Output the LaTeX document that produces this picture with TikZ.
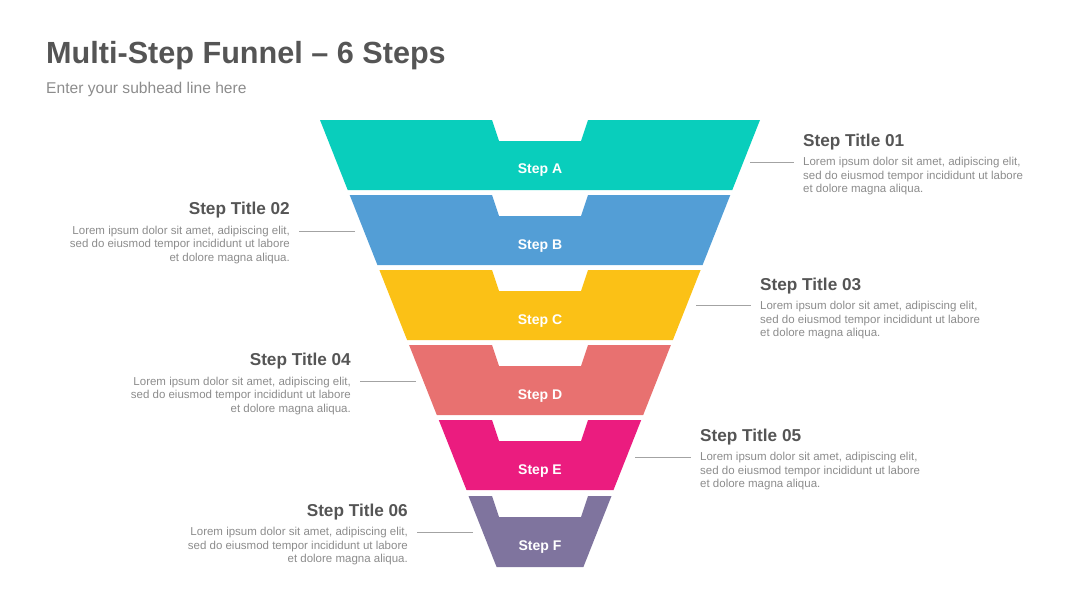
\documentclass[tikz,border=0pt]{standalone}
\usepackage{fontspec}
\setmainfont{Liberation Sans}
\definecolor{tealk}{RGB}{9, 206, 188}
\definecolor{azulk}{RGB}{83, 158, 214}
\definecolor{amarillok}{RGB}{251, 193, 22}
\definecolor{salmonk}{RGB}{232, 113, 112}
\definecolor{rosak}{RGB}{235, 28, 127}
\definecolor{moradok}{RGB}{127, 116, 158}
\definecolor{grisk}{RGB}{85, 85, 85}
\definecolor{grisclarok}{RGB}{140, 140, 140}
\usetikzlibrary{positioning}

\begin{document}
\begin{tikzpicture}[x=1pt,y=-1pt,
    steplbl/.style={text=white,font=\fontsize{14}{16}\selectfont\bfseries,anchor=base,inner sep=0pt},
    steptitle/.style={text=grisk,font=\fontsize{17.2}{20}\selectfont\bfseries,inner sep=0pt},
    stepbody/.style={text=grisclarok,font=\fontsize{11.5}{13.5}\selectfont,inner sep=0pt},
    lead/.style={draw=grisclarok!80,line width=0.8pt,shorten >=9pt}]
  \useasboundingbox (0,0) rectangle (1080,608);

  \node[anchor=base west,inner sep=0pt,text=grisk,font=\fontsize{30.6}{35}\selectfont\bfseries] (head) at (46,63) {Multi-Step Funnel -- 6 Steps};
  \node[anchor=base west,inner sep=0pt,text=grisclarok,font=\fontsize{15.6}{18}\selectfont] (subhead) at (46,93) {Enter your subhead line here};

  % funnel bands
  \fill[tealk] (320,120) -- (492,120) -- (499,141) -- (581,141) -- (588,120) -- (760,120) -- (732.3,190) -- (347.7,190) -- cycle;
  \fill[azulk] (349.7,195) -- (492,195) -- (499,216) -- (581,216) -- (588,195) -- (730.3,195) -- (702.6,265) -- (377.4,265) -- cycle;
  \fill[amarillok] (379.4,270) -- (492,270) -- (499,291) -- (581,291) -- (588,270) -- (700.6,270) -- (672.9,340) -- (407.1,340) -- cycle;
  \fill[salmonk] (409.1,345) -- (492,345) -- (499,366) -- (581,366) -- (588,345) -- (670.9,345) -- (643.2,415) -- (436.8,415) -- cycle;
  \fill[rosak] (438.8,420) -- (492,420) -- (499,441) -- (581,441) -- (588,420) -- (641.2,420) -- (613.5,490) -- (466.5,490) -- cycle;
  \fill[moradok] (468.5,496) -- (492,496) -- (499,517) -- (581,517) -- (588,496) -- (611.5,496) -- (583.4,567) -- (496.6,567) -- cycle;

  \node[steplbl] (lblA) at (540,173) {Step A};
  \node[steplbl] (lblB) at (540,249) {Step B};
  \node[steplbl] (lblC) at (540,324) {Step C};
  \node[steplbl] (lblD) at (540,399) {Step D};
  \node[steplbl] (lblE) at (540,474) {Step E};
  \node[steplbl] (lblF) at (540,550.5) {Step F};

  % right side texts
  \node[steptitle,anchor=base west] (t01) at (803,146) {Step Title 01};
  \node[stepbody,align=left,below=11pt of t01.base west,anchor=north west] (b01)
       {Lorem ipsum dolor sit amet, adipiscing elit,\\sed do eiusmod tempor incididunt ut labore\\et dolore magna aliqua.};
  \node[steptitle,anchor=base west] (t03) at (760,290) {Step Title 03};
  \node[stepbody,align=left,below=11pt of t03.base west,anchor=north west] (b03)
       {Lorem ipsum dolor sit amet, adipiscing elit,\\sed do eiusmod tempor incididunt ut labore\\et dolore magna aliqua.};
  \node[steptitle,anchor=base west] (t05) at (700,441) {Step Title 05};
  \node[stepbody,align=left,below=11pt of t05.base west,anchor=north west] (b05)
       {Lorem ipsum dolor sit amet, adipiscing elit,\\sed do eiusmod tempor incididunt ut labore\\et dolore magna aliqua.};

  % left side texts
  \node[steptitle,anchor=base east] (t02) at (290,214.5) {Step Title 02};
  \node[stepbody,align=right,below=11pt of t02.base east,anchor=north east] (b02)
       {Lorem ipsum dolor sit amet, adipiscing elit,\\sed do eiusmod tempor incididunt ut labore\\et dolore magna aliqua.};
  \node[steptitle,anchor=base east] (t04) at (351,365.5) {Step Title 04};
  \node[stepbody,align=right,below=11pt of t04.base east,anchor=north east] (b04)
       {Lorem ipsum dolor sit amet, adipiscing elit,\\sed do eiusmod tempor incididunt ut labore\\et dolore magna aliqua.};
  \node[steptitle,anchor=base east] (t06) at (408,516) {Step Title 06};
  \node[stepbody,align=right,below=11pt of t06.base east,anchor=north east] (b06)
       {Lorem ipsum dolor sit amet, adipiscing elit,\\sed do eiusmod tempor incididunt ut labore\\et dolore magna aliqua.};

  % leader lines
  \coordinate (c01) at (750,162);
  \coordinate (c02) at (355,231);
  \coordinate (c03) at (696,305);
  \coordinate (c04) at (416,381.5);
  \coordinate (c05) at (635,457);
  \coordinate (c06) at (473,532);
  \draw[lead] (c01) -- (c01 -| b01.west);
  \draw[lead] (c02) -- (c02 -| b02.east);
  \draw[lead] (c03) -- (c03 -| b03.west);
  \draw[lead] (c04) -- (c04 -| b04.east);
  \draw[lead] (c05) -- (c05 -| b05.west);
  \draw[lead] (c06) -- (c06 -| b06.east);
\end{tikzpicture}
\end{document}
